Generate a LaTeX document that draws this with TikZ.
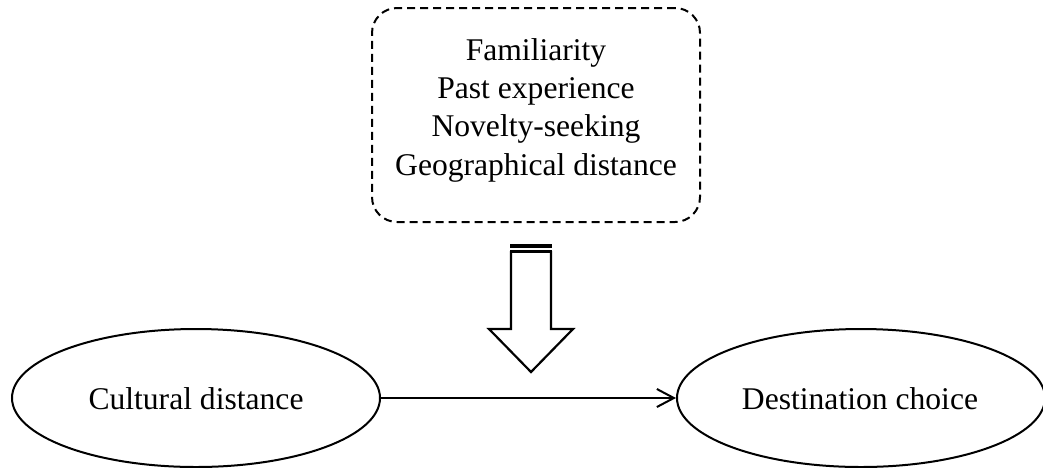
\documentclass[tikz,border=0pt]{standalone}
\usepackage{fontspec}
\setmainfont{Liberation Serif}
\usetikzlibrary{shapes.geometric,arrows.meta}
\begin{document}
\begin{tikzpicture}[x=1pt,y=-1pt,
  every node/.style={font=\fontsize{31.6}{38.3}\selectfont},
  ell/.style={draw,ellipse,line width=2pt,inner sep=0pt,minimum width=368pt,minimum height=138pt},
  modbox/.style={draw,dashed,dash pattern=on 8pt off 5pt,line width=2pt,rounded corners=25pt,minimum width=328pt,minimum height=214pt,inner sep=0pt},
  conn/.style={line width=2pt,-{Straight Barb[length=17pt,width=18pt,line width=2pt]}},
  blockarrow/.style={line width=2.2pt,line join=miter}
]
\useasboundingbox (0,0) rectangle (1043,467);
\node[modbox] (mod) at (536,115) {};
\node[align=center,inner sep=0pt] (modtext) at (536,110) {Familiarity\\Past experience\\Novelty-seeking\\Geographical distance};
\node[ell] (cd) at (196,398) {};
\node (cdt) at (196,399) {Cultural distance};
\node[ell] (dc) at (861,398) {};
\node (dct) at (860,399) {Destination choice};
\draw[conn] (cd.east) -- (dc.west);
% block arrow
\draw[line width=4pt] (510,245.5) -- (552,245.5);
\draw[line width=3.5pt] (510,251.5) -- (552,251.5);
\draw[blockarrow] (511,251) -- (511,329) -- (489,329) -- (531,372) -- (573,329) -- (551,329) -- (551,251);
\end{tikzpicture}
\end{document}
